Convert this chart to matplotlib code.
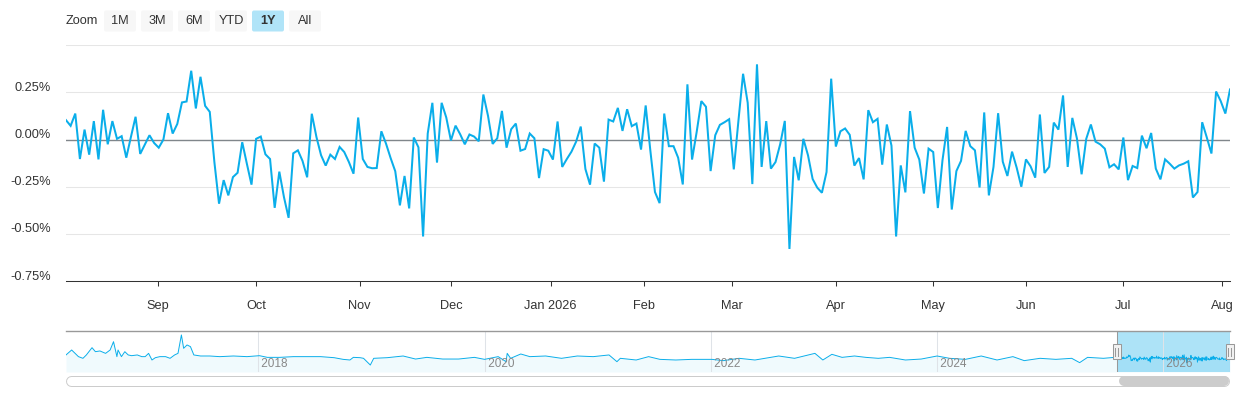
import numpy as np
import pandas as pd
import matplotlib
matplotlib.use('Agg')
import matplotlib.pyplot as plt
import matplotlib.transforms as mtransforms
from matplotlib.patches import FancyBboxPatch, Rectangle

plt.rcParams['font.family'] = ['Liberation Sans', 'DejaVu Sans']

# daily change in %, one value per trading day starting 4 Aug 2025
values = [
    0.103, 0.073, 0.138, -0.103, 0.053, -0.080, 0.098, -0.105, 0.158, -0.025,
    0.098, 0.004, 0.018, -0.096, 0.014, 0.121, -0.076, -0.027, 0.023, -0.018,
    -0.043, 0.000, 0.140, 0.032, 0.083, 0.197, 0.202, 0.365, 0.165, 0.333,
    0.179, 0.147, -0.120, -0.340, -0.215, -0.296, -0.199, -0.176, -0.014, -0.128,
    -0.239, 0.004,
    0.016, -0.078, -0.103, -0.362, -0.170, -0.305, -0.415, -0.073, -0.057, -0.113,
    -0.200, 0.137, 0.014, -0.083, -0.138, -0.080, -0.103, -0.039, -0.066, -0.119,
    -0.181, 0.117, -0.103, -0.145, -0.152, -0.151, 0.044, -0.021, -0.098, -0.168,
    -0.349, -0.193, -0.365, 0.011, -0.041, -0.514, 0.032, 0.195, -0.122, 0.195,
    0.117, -0.005,
    0.074, 0.028, -0.025, 0.027, 0.016, -0.009, 0.239, 0.126, -0.023, 0.007,
    0.152, -0.043, 0.055, 0.085, -0.059, -0.050, 0.032, 0.007, -0.204, -0.051,
    -0.059, -0.106, 0.096, -0.145, -0.103, -0.064, -0.011, 0.069, -0.156, -0.239,
    -0.021, -0.043, -0.223, 0.106, 0.096, 0.168, 0.046, 0.161, 0.071, 0.085,
    -0.053, 0.181,
    -0.057, -0.278, -0.337, 0.138, -0.035, -0.035, -0.096, -0.238, 0.293, -0.106,
    0.041, 0.204, 0.174, -0.167, 0.023, 0.078, 0.092, 0.108, -0.158, 0.100,
    0.349, 0.195, -0.236, 0.399, -0.145, 0.098, -0.154, -0.119, -0.025, 0.099,
    -0.580, -0.092, -0.216, 0.004, -0.083, -0.209, -0.255, -0.282, -0.172, 0.323,
    -0.037, 0.044,
    0.059, 0.025, -0.138, -0.098, -0.211, 0.156, 0.092, 0.110, -0.133, 0.080,
    -0.032, -0.514, -0.137, -0.280, 0.151, -0.043, -0.106, -0.286, -0.048, -0.066,
    -0.363, -0.110, 0.067, -0.371, -0.167, -0.113, 0.046, -0.035, -0.057, -0.254,
    0.144, -0.296, -0.145, 0.140, -0.117, -0.193, -0.064, -0.149, -0.250, -0.105,
    -0.142, -0.202,
    0.133, -0.177, -0.145, 0.090, 0.053, 0.234, -0.145, 0.115, 0.005, -0.184,
    0.004, 0.080, -0.011, -0.025, -0.048, -0.147, -0.131, -0.158, 0.011, -0.215,
    -0.140, -0.151, 0.021, -0.046, 0.035, -0.154, -0.211, -0.105, -0.128, -0.154,
    -0.137, -0.128, -0.115, -0.307, -0.278, 0.092, 0.011, -0.074, 0.255, 0.204,
    0.138, 0.266,
]
holidays = ['2025-09-01', '2025-11-27', '2025-12-25', '2026-01-01', '2026-01-19',
            '2026-02-16', '2026-04-03', '2026-05-25', '2026-06-19', '2026-07-03']

# older history, coarse reading of the navigator (decimal year, %)
hist_year = [
    2016.30, 2016.35, 2016.38, 2016.41, 2016.45, 2016.48, 2016.53, 2016.56, 2016.60, 2016.65,
    2016.69, 2016.72, 2016.75, 2016.76, 2016.79, 2016.82, 2016.85, 2016.88, 2016.93, 2016.97,
    2017.00, 2017.03, 2017.06, 2017.09, 2017.13, 2017.18, 2017.22, 2017.26, 2017.29, 2017.32,
    2017.34, 2017.37, 2017.40, 2017.43, 2017.49, 2017.57, 2017.66, 2017.78, 2017.90, 2018.01,
    2018.08, 2018.19, 2018.31, 2018.43, 2018.55, 2018.67, 2018.75, 2018.81, 2018.84, 2018.90,
    2018.93, 2018.99, 2019.02, 2019.14, 2019.28, 2019.39, 2019.49, 2019.63, 2019.77, 2019.91,
    2020.00, 2020.12, 2020.19, 2020.20, 2020.23, 2020.32, 2020.40, 2020.54, 2020.68, 2020.82,
    2020.96, 2021.10, 2021.17, 2021.20, 2021.34, 2021.45, 2021.55, 2021.69, 2021.83, 2022.01,
    2022.11, 2022.25, 2022.39, 2022.60, 2022.74, 2022.92, 2022.99, 2023.07, 2023.16, 2023.27,
    2023.37, 2023.48, 2023.58, 2023.72, 2023.86, 2024.00, 2024.11, 2024.25, 2024.39, 2024.53,
    2024.67, 2024.77, 2024.91, 2025.05, 2025.19, 2025.26, 2025.33, 2025.47,
]
hist_val = [
    0.38, 1.00, 0.58, 0.17, -0.04, 0.38, 1.29, 0.79, 0.88, 0.58,
    1.00, 2.04, 0.17, 1.00, 0.17, 0.79, 0.38, 0.29, 0.38, 0.17,
    0.17, 0.58, -0.25, 0.04, 0.17, 0.17, -0.04, 0.38, 0.58, 2.88,
    1.21, 1.63, 1.42, 0.38, 0.25, 0.25, 0.17, 0.25, 0.17, 0.29,
    0.08, 0.08, 0.17, 0.17, 0.17, 0.04, -0.17, -0.25, 0.08, 0.04,
    -0.04, -0.88, -0.04, 0.04, 0.25, -0.13, 0.08, -0.13, -0.13, 0.08,
    -0.17, 0.17, -0.46, 0.58, -0.04, 0.50, 0.17, 0.25, -0.04, 0.25,
    0.17, 0.38, -0.46, -0.04, -0.25, 0.17, -0.17, -0.25, -0.17, -0.17,
    -0.33, -0.04, -0.25, 0.25, -0.04, 0.58, -0.25, 0.46, 0.08, 0.25,
    0.08, -0.04, 0.08, -0.25, -0.13, 0.25, -0.04, -0.17, 0.25, -0.25,
    0.17, -0.33, -0.04, -0.17, -0.04, -0.58, 0.08, -0.04,
]
nav_years = [2018, 2020, 2022, 2024, 2026]
buttons = ['1M', '3M', '6M', 'YTD', '1Y', 'All']
selected_button = '1Y'

line_color = '#0aaeea'
text_color = '#333333'

n = len(values)
dates = pd.bdate_range('2025-08-04', periods=n, freq='C', holidays=holidays)
idx = np.arange(n)
months = pd.date_range('2025-09-01', '2026-08-01', freq='MS')
tick_pos = np.interp(months.asi8, dates.asi8, idx)
tick_lab = [m.strftime('%b %Y') if m.month == 1 else m.strftime('%b') for m in months]
main_year = np.array([d.year + (d.dayofyear - 1) / (366 if d.is_leap_year else 365) for d in dates])

W, H = 1240, 400
fig = plt.figure(figsize=(W / 100, H / 100), dpi=100)

# main chart
ax = fig.add_axes([66 / W, 1 - 281 / H, 1164 / W, (281 - 45.3) / H])
ax.plot(idx, values, color=line_color, lw=1.45, zorder=3, solid_joinstyle='miter')
ax.axhline(0, color='#80868b', lw=1.0, zorder=2)
ax.set_xlim(0, n - 1)
ax.set_ylim(-0.75, 0.5)
yt = [-0.75, -0.5, -0.25, 0.0, 0.25, 0.5]
ax.set_yticks(yt)
ax.set_yticklabels(['%.2f%%' % v if v < 0.5 else '' for v in yt])
ax.yaxis.grid(True, color='#e6e6e6', lw=0.75)
ax.set_axisbelow(True)
ax.tick_params(axis='y', length=0, pad=11, labelsize=9.2, labelcolor=text_color)
lift = mtransforms.ScaledTranslation(0, 0.06, fig.dpi_scale_trans)
for lab in ax.get_yticklabels():
    lab.set_transform(lab.get_transform() + lift)
ax.set_xticks(tick_pos)
ax.set_xticklabels(tick_lab)
ax.tick_params(axis='x', direction='out', length=3.6, width=0.75, color=text_color,
               pad=10, labelsize=9.2, labelcolor=text_color)
for s in ['top', 'left', 'right']:
    ax.spines[s].set_visible(False)
ax.spines['bottom'].set_color(text_color)
ax.spines['bottom'].set_linewidth(0.75)

# navigator
nav = fig.add_axes([66 / W, 1 - 372 / H, 1164 / W, 41 / H])
nav_x = np.concatenate([hist_year, main_year])
nav_y = np.concatenate([hist_val, values])
nav_lo, nav_hi = -1.75, 3.375
nav.set_xlim(nav_x[0], nav_x[-1])
nav.set_ylim(nav_lo, nav_hi)
nav.axvspan(main_year[0], main_year[-1], color='#ade3f7', lw=0, zorder=0)
nav.fill_between(nav_x, nav_y, nav_lo, color=line_color, alpha=0.06, lw=0, zorder=1)
nav.plot(nav_x, nav_y, color=line_color, lw=0.7, zorder=3)
for yr in nav_years:
    nav.axvline(yr, color='#dfe3e8', lw=0.75, zorder=1)
    nav.text(yr, nav_lo + 0.2 * (nav_hi - nav_lo), ' %d' % yr, color='#888888',
             fontsize=8.5, ha='left', va='center', zorder=4)
nav.axhline(nav_hi, color='#999999', lw=1.0, zorder=5, clip_on=False)
for xh in [main_year[0], main_year[-1]]:
    nav.axvline(xh, color='#999999', lw=0.75, zorder=5)
nav.set_xticks([])
nav.set_yticks([])
for s in nav.spines.values():
    s.set_visible(False)

# overlay in pixel coordinates for buttons, handles and scrollbar
ov = fig.add_axes([0, 0, 1, 1])
ov.set_xlim(0, W)
ov.set_ylim(H, 0)
ov.axis('off')


def to_px(a, x, y):
    d = a.transData.transform((x, y))
    return ov.transData.inverted().transform(d)


# zoom buttons
ov.text(66, 21.5, 'Zoom', ha='left', va='center', fontsize=9.2, color=text_color)
bx = 104
for b in buttons:
    sel = b == selected_button
    ov.add_patch(FancyBboxPatch((bx, 10.5), 32, 21, boxstyle='round,pad=0,rounding_size=2',
                                fc='#b0e4f8' if sel else '#f7f7f7', ec='none'))
    ov.text(bx + 16, 21.5, b, ha='center', va='center', fontsize=9.2, color=text_color,
            fontweight='bold' if sel else 'normal')
    bx += 37

# navigator handles
mid = (nav_lo + nav_hi) / 2
for xh in [main_year[0], main_year[-1]]:
    px, py = to_px(nav, xh, mid)
    ov.add_patch(Rectangle((px - 4, py - 7.5), 8, 15, fc='#f2f2f2', ec='#999999', lw=0.75))
    for dx in (-1.5, 1.5):
        ov.plot([px + dx, px + dx], [py - 4, py + 4], color='#999999', lw=0.75)

# scrollbar
x0, _ = to_px(nav, nav_x[0], mid)
x1, _ = to_px(nav, nav_x[-1], mid)
s0, _ = to_px(nav, main_year[0], mid)
ov.plot([x0 + 5.5, x1 - 5.5], [380.5, 380.5], color='#cccccc', lw=7.9, solid_capstyle='round')
ov.plot([x0 + 5.5, x1 - 5.5], [380.5, 380.5], color='white', lw=6.5, solid_capstyle='round')
ov.plot([s0 + 7, x1 - 5.5], [380.5, 380.5], color='#cccccc', lw=7.2, solid_capstyle='round')

fig.savefig('out.png', dpi=100)
